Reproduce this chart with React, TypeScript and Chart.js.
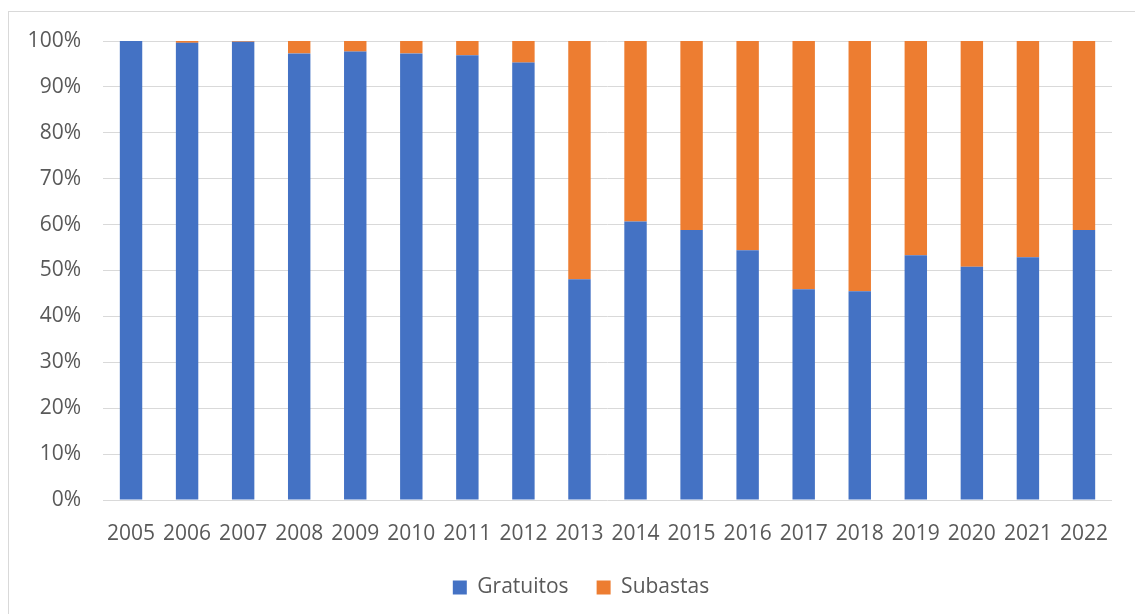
import React, { useEffect, useRef } from "react";
import { Chart, registerables } from "chart.js";

Chart.register(...registerables);

const years = ["2005","2006","2007","2008","2009","2010","2011","2012","2013","2014","2015","2016","2017","2018","2019","2020","2021","2022"];
const gratuitos = [100, 99.6, 99.85, 97.3, 97.7, 97.3, 96.9, 95.3, 48.1, 60.7, 58.8, 54.4, 45.9, 45.5, 53.3, 50.8, 52.9, 58.8];
const subastas = [0, 0.4, 0.15, 2.7, 2.3, 2.7, 3.1, 4.7, 51.9, 39.3, 41.2, 45.6, 54.1, 54.5, 46.7, 49.2, 47.1, 41.2];
const yTicks = [0, 10, 20, 30, 40, 50, 60, 70, 80, 90, 100];

const FONT = "'Open Sans', sans-serif";
const TEXT = "#595959";

export default function App() {
  const ref = useRef<HTMLCanvasElement | null>(null);
  useEffect(() => {
    if (!ref.current) return;
    const chart = new Chart(ref.current, {
      type: "bar",
      data: {
        labels: years,
        datasets: [
          { label: "Gratuitos", data: gratuitos, backgroundColor: "#4472C4", barPercentage: 0.4, categoryPercentage: 1 },
          { label: "Subastas", data: subastas, backgroundColor: "#ED7D31", barPercentage: 0.4, categoryPercentage: 1 },
        ],
      },
      options: {
        responsive: false,
        animation: false,
        layout: { padding: { left: 27, right: 0, top: 41, bottom: 6 } },
        plugins: {
          tooltip: { enabled: false },
          legend: {
            position: "bottom",
            labels: {
              boxWidth: 14,
              boxHeight: 14,
              padding: 28,
              color: TEXT,
              font: { family: FONT, size: 21 },
            },
          },
        },
        scales: {
          x: {
            stacked: true,
            grid: { display: false, drawTicks: false },
            border: { display: false },
            ticks: { color: TEXT, font: { family: FONT, size: 21 }, padding: 21, maxRotation: 0, autoSkip: false },
            afterFit: (s: any) => { s.height = 49; },
          },
          y: {
            stacked: true,
            min: 0,
            max: 100,
            afterBuildTicks: (s: any) => { s.ticks = yTicks.map((v) => ({ value: v })); },
            grid: { color: "#d9d9d9", lineWidth: 1, drawTicks: false },
            border: { display: false },
            ticks: { color: TEXT, font: { family: FONT, size: 21 }, padding: 22, callback: (v: any) => v + "%" },
            afterFit: (s: any) => { s.width = 76; },
          },
          y2: {
            position: "right",
            display: true,
            grid: { display: false, drawTicks: false },
            border: { display: false },
            ticks: { display: false },
            afterFit: (s: any) => { s.width = 23; },
          },
        },
      },
    });
    return () => chart.destroy();
  }, []);
  return (
    <div style={{ position: "absolute", left: 0, top: 0, width: 1135, height: 614, overflow: "hidden", background: "#fff" }}>
      <div style={{ position: "absolute", left: 8, top: 11, width: 1140, height: 620, border: "1px solid #d9d9d9", boxSizing: "border-box" }} />
      <canvas ref={ref} width={1135} height={614} style={{ position: "absolute", left: 0, top: 0 }} />
    </div>
  );
}
